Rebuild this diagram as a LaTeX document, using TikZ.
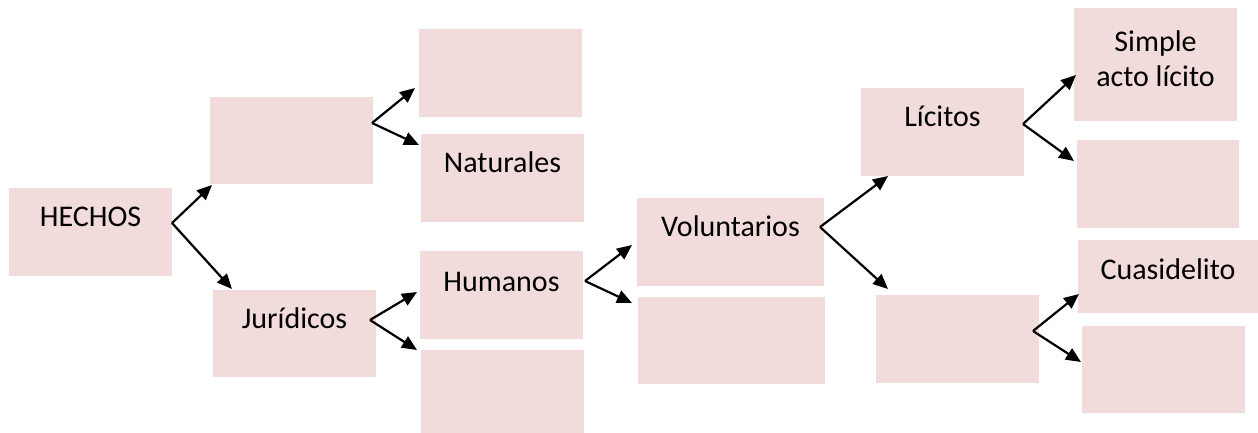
\documentclass[tikz,border=0pt]{standalone}
\usepackage{fontspec}
\setmainfont{Carlito}
\usetikzlibrary{arrows.meta}
\definecolor{boxpink}{HTML}{F2DCDB}
\tikzset{
  box/.style={fill=boxpink, draw=none, inner sep=0pt, outer sep=0pt},
  txt/.style={inner sep=0pt, outer sep=0pt, font=\fontsize{30}{35}\selectfont, text=black},
  arr/.style={line width=2.2pt, -{Triangle[length=15pt,width=13pt]}}
}
\begin{document}
\begin{tikzpicture}[x=1pt,y=-1pt]
\useasboundingbox (0,0) rectangle (1258,432);
% boxes
\node[box, minimum width=163pt, minimum height=88pt] (hechos) at (90.5,232) {};
\node[box, minimum width=163pt, minimum height=87pt] (b2) at (291.5,140.5) {};
\node[box, minimum width=163pt, minimum height=87pt] (jur) at (294.5,333.5) {};
\node[box, minimum width=163pt, minimum height=88pt] (b4) at (500.5,73) {};
\node[box, minimum width=163pt, minimum height=88pt] (nat) at (502.5,178) {};
\node[box, minimum width=163pt, minimum height=88pt] (hum) at (501.5,295) {};
\node[box, minimum width=163pt, minimum height=88pt] (b7) at (502.5,394) {};
\node[box, minimum width=187pt, minimum height=88pt] (vol) at (730.5,242) {};
\node[box, minimum width=187pt, minimum height=87pt] (b9) at (731.5,340.5) {};
\node[box, minimum width=163pt, minimum height=88pt] (lic) at (942.5,132) {};
\node[box, minimum width=163pt, minimum height=88pt] (b11) at (957.5,339) {};
\node[box, minimum width=163pt, minimum height=113pt] (simple) at (1155.5,64.5) {};
\node[box, minimum width=162pt, minimum height=88pt] (b13) at (1158,184) {};
\node[box, minimum width=180pt, minimum height=73pt] (cuasi) at (1168,276.5) {};
\node[box, minimum width=163pt, minimum height=87pt] (b15) at (1163.5,369.5) {};
% texts
\node[txt, anchor=base] (hechosT) at (90.5,226) {HECHOS};
\node[txt, anchor=base] (jurT) at (294.5,328) {Jurídicos};
\node[txt, anchor=base] (natT) at (502.5,172) {Naturales};
\node[txt, anchor=base] (humT) at (501.5,291) {Humanos};
\node[txt, anchor=base] (volT) at (730.5,236) {Voluntarios};
\node[txt, anchor=base] (licT) at (942.5,126) {Lícitos};
\node[txt, anchor=base] (cuasiT) at (1168,279) {Cuasidelito};
\node[txt, anchor=base] (simpleT1) at (1155.5,51) {Simple};
\node[txt, anchor=base] (simpleT2) at (1155.5,86) {acto lícito};
% branch points
\coordinate (pA) at (172,223);
\coordinate (pB) at (372,123);
\coordinate (pC) at (370,320);
\coordinate (pD) at (585,281);
\coordinate (pE) at (820,227);
\coordinate (pF) at (1023,124);
\coordinate (pG) at (1033,331);
% arrow tips
\coordinate (tA1) at (212,185); \coordinate (tA2) at (232,289);
\coordinate (tB1) at (415,88);  \coordinate (tB2) at (419,145);
\coordinate (tC1) at (417,292); \coordinate (tC2) at (417,350);
\coordinate (tD1) at (632,245); \coordinate (tD2) at (632,303);
\coordinate (tE1) at (888,176); \coordinate (tE2) at (888,289);
\coordinate (tF1) at (1076,75); \coordinate (tF2) at (1074,161);
\coordinate (tG1) at (1079,294); \coordinate (tG2) at (1081,362);
% connectors
\foreach \p in {A,B,C,D,E,F,G}{
  \draw[arr] (p\p) -- (t\p1);
  \draw[arr] (p\p) -- (t\p2);
}
\end{tikzpicture}
\end{document}
